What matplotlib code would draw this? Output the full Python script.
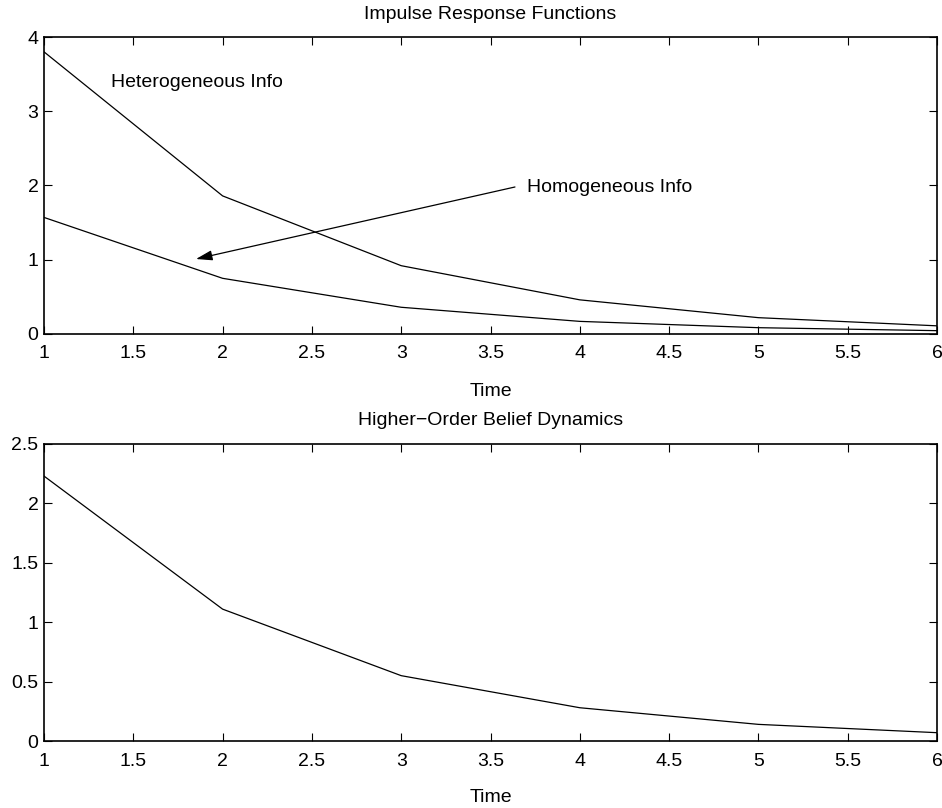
import matplotlib
matplotlib.use("Agg")
import matplotlib.pyplot as plt

plt.rcParams["font.family"] = ["Liberation Sans", "DejaVu Sans"]
plt.rcParams["font.size"] = 14

time = [1, 2, 3, 4, 5, 6]
hetero = [3.80, 1.86, 0.92, 0.46, 0.22, 0.11]
homo = [1.57, 0.75, 0.36, 0.17, 0.085, 0.045]
higher_order = [2.23, 1.11, 0.55, 0.28, 0.14, 0.07]

x_ticks = [1, 1.5, 2, 2.5, 3, 3.5, 4, 4.5, 5, 5.5, 6]
x_labels = ["1", "1.5", "2", "2.5", "3", "3.5", "4", "4.5", "5", "5.5", "6"]

fig = plt.figure(figsize=(9.42, 8.08), dpi=100)
W, H = 942, 808
ax1 = fig.add_axes([44 / W, 1 - 334 / H, (937 - 44) / W, (334 - 37) / H])
ax2 = fig.add_axes([44 / W, 1 - 741 / H, (937 - 44) / W, (741 - 444) / H])


def style(ax, xpad, label_y):
    ax.set_xlim(1, 6)
    ax.set_xticks(x_ticks)
    ax.set_xticklabels(x_labels)
    ax.tick_params(direction="in", top=True, right=True, length=6, width=0.8)
    ax.tick_params(axis="x", pad=xpad)
    ax.tick_params(axis="y", pad=4)
    for s in ax.spines.values():
        s.set_linewidth(1.2)
    ax.set_xlabel("Time")
    ax.xaxis.set_label_coords(0.5, label_y)


ax1.plot(time, hetero, color="black", linewidth=0.9)
ax1.plot(time, homo, color="black", linewidth=0.9)
ax1.set_ylim(0, 4)
ax1.set_yticks([0, 1, 2, 3, 4])
ax1.set_yticklabels(["0", "1", "2", "3", "4"])
style(ax1, 8.0, -0.165)
ax1.set_title("Impulse Response Functions", fontsize=14, pad=13)
ax1.text(1.373, 3.33, "Heterogeneous Info", va="baseline", ha="left")
ax1.text(3.704, 1.912, "Homogeneous Info", va="baseline", ha="left")
ax1.annotate("", xy=(1.851, 1.01), xytext=(3.637, 1.98),
             arrowprops=dict(arrowstyle="-|>,head_length=0.55,head_width=0.17",
                             color="black", lw=0.9,
                             mutation_scale=18, shrinkA=0, shrinkB=0))

ax2.plot(time, higher_order, color="black", linewidth=0.9)
ax2.set_ylim(0, 2.5)
ax2.set_yticks([0, 0.5, 1, 1.5, 2, 2.5])
ax2.set_yticklabels(["0", "0.5", "1", "1.5", "2", "2.5"])
style(ax2, 8.8, -0.1616)
ax2.set_title("Higher\u2212Order Belief Dynamics", fontsize=14, pad=13.5)

fig.savefig("out.png", dpi=100, facecolor="white")
